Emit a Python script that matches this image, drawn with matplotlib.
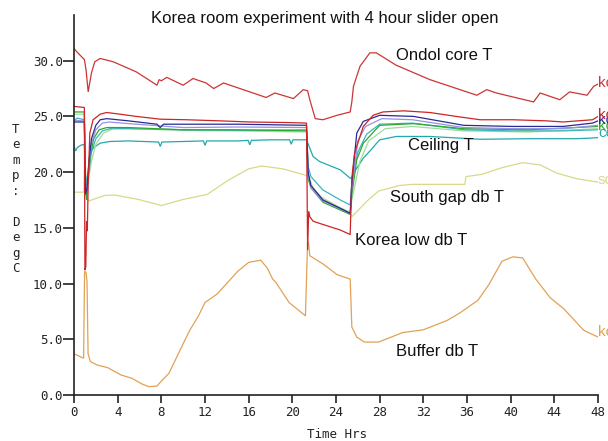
import matplotlib
matplotlib.use('Agg')
import matplotlib.pyplot as plt

MONO = 'DejaVu Sans Mono'
SANS = ['Liberation Sans', 'DejaVu Sans']

# ---- data (hours, degC) ----
ondol_t = [0, 0.25, 0.95, 1.1, 1.3, 1.6, 1.9, 2.4, 3.6, 5.7, 7.6, 7.8, 8.0, 8.5, 10.0, 10.9,
           12.1, 12.8, 13.7, 16.1, 17.6, 18.4, 20.1, 21.0, 21.4, 21.6, 22.1, 22.8, 24.1,
           25.3, 25.45, 25.6, 26.2, 27.1, 27.7, 29.5, 32.6, 36.9, 37.8, 38.7, 42.1, 42.7,
           44.5, 45.4, 47.0, 47.6, 48.0]
ondol_T = [31.1, 30.8, 30.1, 29.2, 27.2, 28.9, 29.9, 30.2, 29.9, 29.0, 27.8, 28.3, 28.2, 28.5,
           27.8, 28.4, 28.0, 27.5, 28.0, 27.2, 26.7, 27.1, 26.6, 27.4, 27.3, 26.5, 24.8, 24.7,
           25.1, 25.4, 26.3, 27.7, 29.5, 30.7, 30.7, 29.6, 28.3, 26.9, 27.4, 27.1, 26.3, 27.1,
           26.5, 27.2, 26.9, 27.7, 27.9]

klow_t = [0, 0.95, 1.0, 1.08, 1.15, 1.22, 1.3, 1.45, 1.75, 2.4, 3.0, 4.2, 5.7, 7.9, 10.3,
          13.4, 16.1, 19.5, 21.3, 21.4, 21.5, 21.6, 21.9, 22.5, 23.45, 24.4, 25.3, 25.45,
          25.7, 26.5, 27.4, 28.3, 30.2, 32.6, 35.0, 37.2, 40.2, 43.3, 44.8, 47.5, 48.0]
klow_T = [25.9, 25.8, 11.2, 11.5, 15.6, 14.7, 19.0, 23.5, 24.7, 25.2, 25.35, 25.2, 25.0, 24.75,
          24.7, 24.6, 24.5, 24.45, 24.4, 13.0, 16.5, 16.0, 15.6, 15.4, 15.1, 14.8, 14.4, 19.5,
          21.7, 24.1, 25.1, 25.4, 25.5, 25.35, 25.0, 24.7, 24.7, 24.6, 24.5, 24.7, 25.0]

blue_t = [0, 0.95, 1.05, 1.2, 1.35, 1.6, 2.0, 2.4, 3.0, 5.0, 7.6, 7.9, 8.2, 10.0, 15.0,
          21.3, 21.45, 21.7, 22.8, 24.4, 25.3, 25.45, 25.9, 26.5, 28.0, 31.1, 35.7, 40.2,
          44.8, 47.5, 48.0]
blue_T = [24.5, 24.5, 18.0, 18.6, 20.8, 23.0, 24.2, 24.7, 24.8, 24.6, 24.3, 24.0, 24.3, 24.3,
          24.3, 24.2, 20.0, 18.8, 17.5, 16.75, 16.3, 19.0, 23.5, 24.55, 25.1, 25.0, 24.2, 24.1,
          24.1, 24.4, 24.6]

purple_t = [0, 0.95, 1.05, 1.2, 1.35, 1.6, 2.0, 2.6, 3.2, 5.0, 10.0, 15.0, 21.3, 21.45, 21.7,
            22.8, 24.4, 25.3, 25.45, 26.0, 26.7, 28.2, 31.0, 35.7, 40.2, 44.8, 48.0]
purple_T = [24.65, 24.6, 18.3, 18.8, 20.5, 22.6, 23.8, 24.4, 24.5, 24.35, 24.0, 24.05, 24.0,
            19.8, 18.6, 17.4, 16.7, 16.3, 18.5, 22.8, 24.1, 24.8, 24.7, 24.0, 23.9, 23.9, 24.2]

tealu_t = [0, 0.3, 0.95, 1.05, 1.2, 1.35, 1.6, 2.0, 2.6, 3.5, 5.0, 10.0, 15.0, 21.3, 21.45,
           21.7, 22.8, 24.4, 25.3, 25.45, 26.0, 26.8, 28.0, 31.0, 35.7, 40.2, 44.8, 48.0]
tealu_T = [24.6, 24.85, 24.7, 19.8, 19.0, 20.0, 21.8, 23.0, 23.7, 23.95, 23.9, 23.8, 23.75,
           23.8, 20.5, 19.6, 18.4, 17.5, 17.05, 19.0, 21.8, 23.4, 24.3, 24.4, 23.8, 23.7, 23.7,
           23.8]

green_t = [0, 0.95, 1.05, 1.15, 1.3, 1.5, 1.8, 2.3, 3.0, 5.0, 10.0, 15.0, 21.3, 21.45, 21.7,
           22.8, 24.4, 25.3, 25.45, 25.9, 26.5, 28.0, 31.1, 35.7, 41.7, 48.0]
green_T = [25.4, 25.4, 18.5, 17.5, 19.5, 21.5, 23.0, 23.8, 24.0, 24.0, 23.8, 23.8, 23.7, 19.4,
           18.6, 17.3, 16.6, 16.2, 18.0, 21.1, 22.6, 24.2, 24.35, 23.9, 23.8, 24.1]

lgreen_t = [0, 0.95, 1.05, 1.3, 1.6, 2.0, 2.7, 3.5, 5.0, 10.0, 15.0, 21.3, 21.45, 21.7, 22.8,
            24.4, 25.3, 25.45, 26.2, 27.0, 28.5, 31.0, 35.7, 41.7, 48.0]
lgreen_T = [25.2, 25.2, 19.0, 19.2, 21.0, 22.5, 23.5, 23.85, 23.9, 23.75, 23.7, 23.6, 19.6,
            18.8, 17.6, 16.8, 16.4, 17.5, 21.0, 22.8, 23.9, 24.1, 23.7, 23.6, 23.9]

ceil_t = [0, 0.15, 0.3, 0.6, 0.95, 1.05, 1.2, 1.45, 1.8, 2.4, 3.3, 5.0, 7.75, 7.9, 8.05, 10.0,
          11.85, 12.0, 12.15, 15.0, 15.95, 16.1, 16.25, 18.0, 19.75, 19.9, 20.05, 21.3, 21.5,
          21.9, 22.5, 24.4, 25.3, 25.45, 25.8, 26.5, 27.2, 28.0, 29.5, 32.6, 37.2, 42.0, 46.0,
          47.3, 48.0]
ceil_T = [22.3, 21.9, 22.2, 22.4, 22.5, 19.5, 18.7, 21.7, 22.2, 22.6, 22.75, 22.8, 22.7, 22.3,
          22.7, 22.75, 22.8, 22.4, 22.8, 22.8, 22.85, 22.45, 22.85, 22.9, 22.9, 22.5, 22.9, 22.9,
          22.4, 21.4, 20.95, 20.2, 19.45, 19.5, 20.2, 21.25, 22.0, 22.9, 23.2, 23.2, 22.95, 23.0,
          23.0, 23.05, 23.1]

south_t = [0, 0.9, 0.95, 1.05, 1.15, 1.3, 2.8, 3.7, 5.9, 8.0, 10.0, 12.2, 14.1, 16.0, 17.2,
           19.1, 21.3, 21.5, 22.1, 23.4, 25.3, 25.45, 27.0, 27.9, 29.8, 31.0, 35.8, 35.9, 37.35,
           39.2, 41.1, 42.7, 44.25, 46.1, 48.0]
south_T = [18.2, 18.2, 20.2, 20.0, 18.0, 17.4, 17.9, 17.95, 17.55, 17.0, 17.55, 18.0, 19.25,
           20.3, 20.55, 20.3, 19.7, 19.6, 18.1, 17.35, 16.3, 16.0, 17.55, 18.3, 18.8, 18.9, 18.9,
           19.6, 19.8, 20.4, 20.85, 20.65, 19.9, 19.4, 19.1]

buffer_t = [0, 0.88, 0.97, 1.1, 1.19, 1.29, 1.5, 2.1, 3.1, 4.3, 5.3, 6.2, 6.85, 7.6, 8.1, 8.7,
            9.7, 10.6, 11.4, 12.0, 13.1, 15.0, 16.0, 17.1, 17.7, 18.2, 18.5, 19.7, 21.2, 21.4,
            21.5, 21.6, 22.9, 24.1, 25.3, 25.45, 25.9, 26.6, 27.9, 30.1, 32.0, 34.2, 35.4, 37.0,
            38.0, 39.2, 40.2, 41.1, 42.3, 43.6, 44.9, 46.7, 48.0]
buffer_T = [3.7, 3.3, 11.1, 11.0, 10.2, 3.7, 3.0, 2.7, 2.45, 1.8, 1.5, 1.0, 0.75, 0.8, 1.35, 1.95,
            4.0, 5.8, 7.1, 8.3, 9.05, 11.1, 11.9, 12.1, 11.4, 10.4, 10.1, 8.3, 7.1, 13.8, 13.5,
            12.5, 11.7, 10.8, 10.4, 6.1, 5.2, 4.75, 4.75, 5.6, 5.85, 6.7, 7.4, 8.5, 9.9, 12.0,
            12.4, 12.3, 10.4, 8.75, 7.7, 5.8, 5.2]

# (x, y, colour, end tag) per series, drawn bottom to top
series = [
    (buffer_t, buffer_T, '#e0a255', 'korea_buffer'),
    (south_t, south_T, '#d9d98a', 'south_gap'),
    (ceil_t, ceil_T, '#22a9ab', 'ceiling'),
    (lgreen_t, lgreen_T, '#9fdc9f', None),
    (tealu_t, tealu_T, '#3bb5c0', None),
    (green_t, green_T, '#2ea82e', 'korea_mid'),
    (purple_t, purple_T, '#9494e0', None),
    (blue_t, blue_T, '#2a2a96', 'korea_high'),
    (klow_t, klow_T, '#cc2525', 'korea_low'),
    (ondol_t, ondol_T, '#cc3535', 'korea_ondol'),
]

fig = plt.figure(figsize=(6.08, 4.41), dpi=100)
ax = fig.add_axes([74/608, 46/441, 524/608, 380/441])

for x, y, c, tag in series:
    ax.plot(x, y, color=c, linewidth=0.9, solid_joinstyle='miter')

# series tags at the right edge, cut off by the figure border as in the original
tag_pos = {'korea_buffer': 5.7, 'south_gap': 19.3, 'ceiling': 23.5,
           'korea_mid': 24.2, 'korea_high': 24.7, 'korea_low': 25.2, 'korea_ondol': 28.1}
for x, y, c, tag in series:
    if tag:
        ax.text(48.0, tag_pos[tag], tag, color=c, fontsize=11, family=SANS,
                ha='left', va='center', clip_on=False)

ax.set_xlim(0, 48)
ax.set_ylim(0, 34.1)
ax.set_xticks(range(0, 49, 4))
ax.set_yticks([0, 5, 10, 15, 20, 25, 30])
ax.set_yticklabels([f'{v:.1f}' for v in [0, 5, 10, 15, 20, 25, 30]])
for lab in ax.get_xticklabels() + ax.get_yticklabels():
    lab.set_family(MONO)
    lab.set_fontsize(9)
    lab.set_color('#222')
ax.tick_params(axis='x', direction='out', length=6, width=1.2, pad=2, colors='#222')
ax.tick_params(axis='y', direction='out', length=8, width=1.2, pad=0, colors='#222')
for s in ['top', 'right']:
    ax.spines[s].set_visible(False)
for s in ['left', 'bottom']:
    ax.spines[s].set_linewidth(1.2)
    ax.spines[s].set_color('#222')

# curve names
notes = [('Ondol core T', 29.5, 30.5), ('Ceiling T', 30.6, 22.4),
         ('South gap db T', 28.95, 17.7), ('Korea low db T', 25.75, 13.9),
         ('Buffer db T', 29.5, 3.86)]
for txt, tx, ty in notes:
    ax.text(tx, ty, txt, fontsize=12, family=SANS, ha='left', va='center', color='#111')

fig.text(325/608, 1 - 18/441, 'Korea room experiment with 4 hour slider open',
         fontsize=12, family=SANS, ha='center', va='center', color='#111')
fig.text(337/608, 1 - 435/441, 'Time Hrs', fontsize=9, family=MONO,
         ha='center', va='center', color='#222')
fig.text(16/608, 1 - 199/441, 'T\ne\nm\np\n:\n \nD\ne\ng\nC', fontsize=9, family=MONO,
         ha='center', va='center', linespacing=1.25, color='#222')

fig.savefig('out.png', dpi=100)
